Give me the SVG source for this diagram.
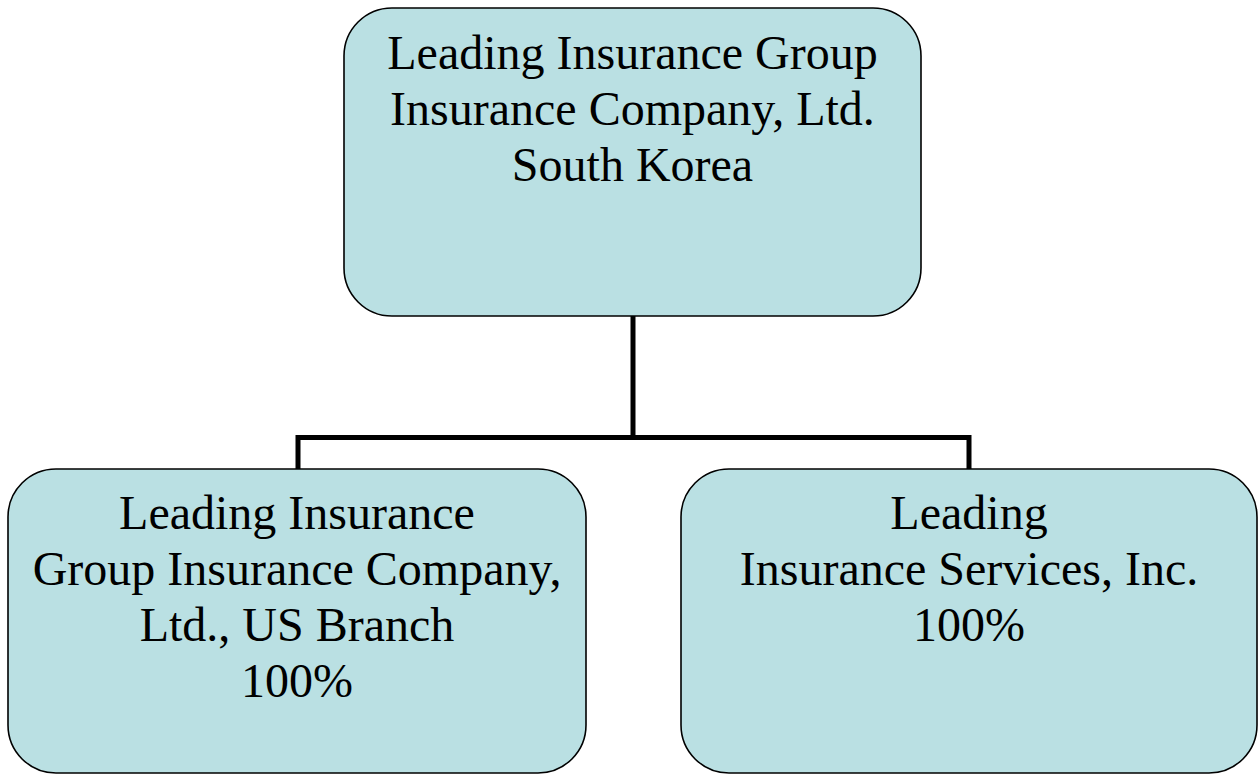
<svg xmlns="http://www.w3.org/2000/svg" width="1258" height="775" viewBox="0 0 1258 775">
<style>
.box{fill:#BAE0E3;stroke:#000;stroke-width:1.6}
.t{font-size:48px;fill:#000;text-anchor:middle}
.c{fill:none;stroke:#000;stroke-width:5;stroke-linecap:butt;stroke-linejoin:miter}
</style>
<rect width="1258" height="775" fill="#fff"/>
<g id="connectors">
<path class="c" d="M633,316 V437.5"/>
<path class="c" d="M298,469 V437.5 H969 V469"/>
</g>
<g font-family="Liberation Serif, Times New Roman, Tinos, DejaVu Serif, serif">
<g id="parent">
<rect class="box" x="344" y="8" width="577" height="308" rx="48" ry="48"/>
<text class="t" x="632.5" y="69">Leading Insurance Group</text>
<text class="t" x="632.5" y="125">Insurance Company, Ltd.</text>
<text class="t" x="632.5" y="181">South Korea</text>
</g>
<g id="us-branch">
<rect class="box" x="8" y="469" width="578" height="304" rx="48" ry="48"/>
<text class="t" x="297" y="529">Leading Insurance</text>
<text class="t" x="297" y="585">Group Insurance Company,</text>
<text class="t" x="297" y="641">Ltd., US Branch</text>
<text class="t" x="297" y="697">100%</text>
</g>
<g id="services">
<rect class="box" x="681" y="469" width="576" height="304" rx="48" ry="48"/>
<text class="t" x="969" y="529">Leading</text>
<text class="t" x="969" y="585">Insurance Services, Inc.</text>
<text class="t" x="969" y="641">100%</text>
</g>
</g>
</svg>
